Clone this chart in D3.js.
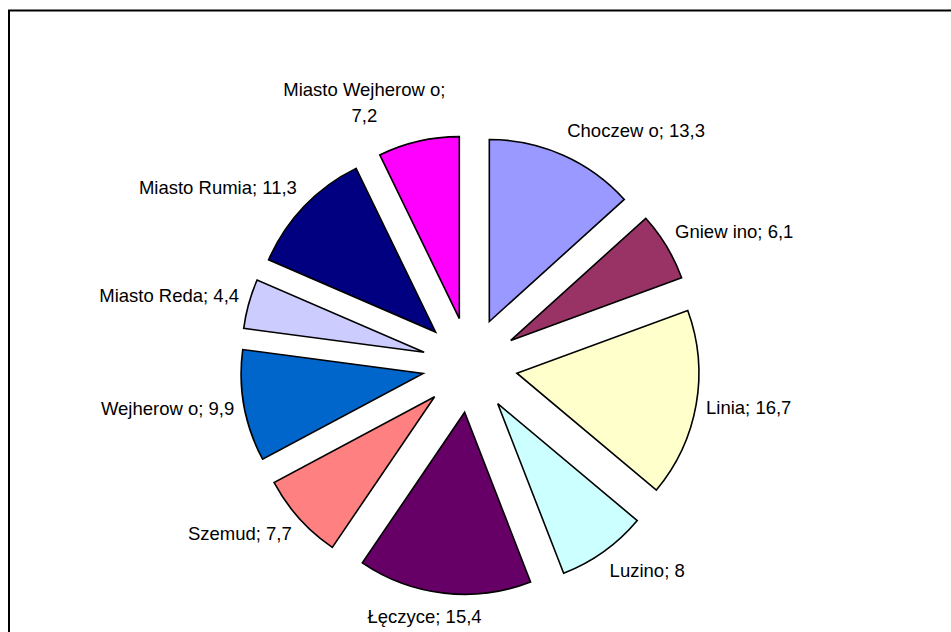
<!DOCTYPE html>
<html>
<head>
<meta charset="utf-8">
<script src="https://cdn.jsdelivr.net/npm/d3@7"></script>
<style>
  html, body { margin: 0; padding: 0; background: #fff; }
  svg { display: block; }
  text { font-family: "Liberation Sans", Arial, sans-serif; fill: #000; }
</style>
</head>
<body>
<svg id="chart" width="951" height="632"></svg>
<script>
// ---- data ----
const categories = ["Choczew o", "Gniew ino", "Linia", "Luzino", "Łęczyce", "Szemud",
                    "Wejherow o", "Miasto Reda", "Miasto Rumia", "Miasto Wejherow o"];
const values = [13.3, 6.1, 16.7, 8, 15.4, 7.7, 9.9, 4.4, 11.3, 7.2];
const colors = ["#9999FF", "#993366", "#FFFFCC", "#CCFFFF", "#660066", "#FF8080",
                "#0066CC", "#CCCCFF", "#000080", "#FF00FF"];

// ---- layout ----
const W = 951, H = 632;
const cx = 470, cy = 365;
const R = 182;
const explode = 47.6;
const fontSize = 18.5;
const wrapWidth = 170;

const svg = d3.select("#chart");

// chart area border (extends beyond the visible frame)
svg.append("rect")
  .attr("x", 9).attr("y", 10.5)
  .attr("width", W + 40).attr("height", H + 40)
  .attr("fill", "none").attr("stroke", "#000").attr("stroke-width", 2);

const data = categories.map((c, i) => ({ name: c, value: values[i], color: colors[i] }));

const pie = d3.pie().sort(null).value(d => d.value);
const arcs = pie(data);
const arc = d3.arc().innerRadius(0).outerRadius(R);

const g = svg.append("g").attr("transform", `translate(${cx},${cy})`);

arcs.forEach(a => {
  const mid = (a.startAngle + a.endAngle) / 2;
  a.mid = mid;
  a.dx = Math.sin(mid) * explode;
  a.dy = -Math.cos(mid) * explode;
});

g.selectAll("path.slice")
  .data(arcs)
  .join("path")
  .attr("class", "slice")
  .attr("transform", d => `translate(${d.dx},${d.dy})`)
  .attr("d", arc)
  .attr("fill", d => d.data.color)
  .attr("stroke", "#000")
  .attr("stroke-width", 1.6)
  .attr("stroke-linejoin", "miter");

// ---- labels ----
const fmt = v => String(v).replace(".", ",");
const lineH = 26;

arcs.forEach(a => {
  const full = `${a.data.name}; ${fmt(a.data.value)}`;
  const t = g.append("text")
    .attr("font-size", fontSize)
    .attr("text-anchor", "middle");
  t.text(full);
  let lines = [full];
  if (t.node().getComputedTextLength() > wrapWidth) {
    lines = [`${a.data.name};`, fmt(a.data.value)];
  }
  t.text(null);
  lines.forEach((ln, i) => t.append("tspan").attr("x", 0).attr("dy", i === 0 ? 0 : lineH).text(ln));
  const w = t.node().getBBox().width;
  const h = (lines.length - 1) * lineH + fontSize * 0.9;
  const s = Math.sin(a.mid), c = Math.cos(a.mid);
  const px = s * (explode + R), py = -c * (explode + R);
  const k = Math.max(-1, Math.min(1, s / 0.35));
  const tx = px + k * w / 2 + s * 10;
  const ty = py - c * (h / 2 + 17);
  const firstBaseline = ty - h / 2 + fontSize * 0.72;
  t.attr("transform", `translate(${tx},${firstBaseline})`);
});
</script>
</body>
</html>
